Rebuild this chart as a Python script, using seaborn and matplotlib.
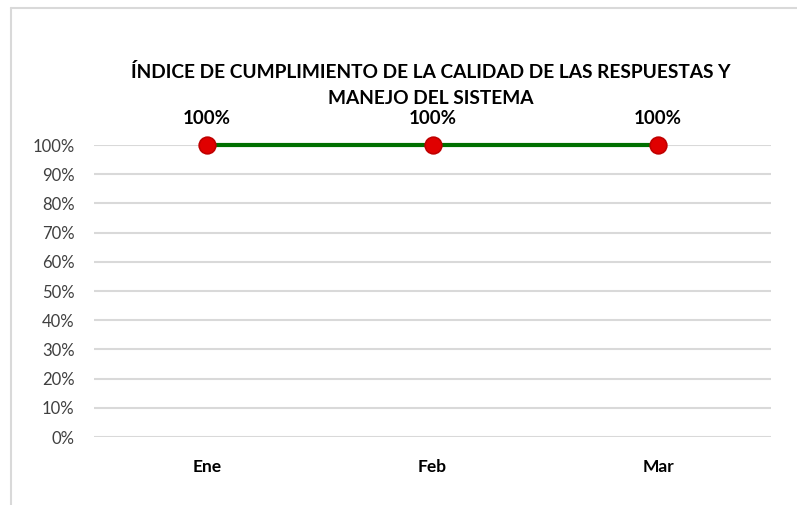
import pandas as pd
import matplotlib
matplotlib.use('Agg')
import matplotlib.pyplot as plt
import seaborn as sns
from matplotlib.ticker import PercentFormatter

meses = ['Ene', 'Feb', 'Mar']
cumplimiento = [1.0, 1.0, 1.0]
titulo = 'ÍNDICE DE CUMPLIMIENTO DE LA CALIDAD DE LAS RESPUESTAS Y\nMANEJO DEL SISTEMA'

df = pd.DataFrame({'mes': meses, 'valor': cumplimiento})
df['pos'] = range(len(meses))

sns.set_style('white')
plt.rcParams['font.family'] = ['Lato', 'DejaVu Sans']

fig = plt.figure(figsize=(7.97, 5.05), dpi=100)
ax = fig.add_axes([94/797, 1 - 437/505, (771 - 94)/797, (437 - 145)/505])

sns.lineplot(data=df, x='pos', y='valor', ax=ax, color='#007000', linewidth=3,
             marker='o', markersize=12, markerfacecolor='#e00000',
             markeredgecolor='#c00000', markeredgewidth=1.2, zorder=3)
for ln in ax.lines:
    ln.set_clip_on(False)

ax.set_xlim(-0.5, len(meses) - 0.5)
ax.set_ylim(0, 1)
ax.set_xticks(df['pos'])
ax.set_xticklabels(meses, fontsize=12.5, fontweight='bold', color='black')
ax.set_yticks([i / 10 for i in range(11)])
ax.yaxis.set_major_formatter(PercentFormatter(1.0, decimals=0))
ax.tick_params(axis='y', labelsize=12, labelcolor='#404040', length=0, pad=14)
ax.tick_params(axis='x', length=0, pad=16)
ax.grid(axis='y', color='#d9d9d9', linewidth=1.5)
ax.set_axisbelow(True)
ax.set_xlabel('')
ax.set_ylabel('')
for s in ax.spines.values():
    s.set_visible(False)

for x, y in zip(df['pos'], df['valor']):
    ax.annotate(f'{y:.0%}', xy=(x, y), xytext=(0, 13), textcoords='offset points',
                ha='center', va='bottom', fontsize=13.5, fontweight='bold', color='black',
                annotation_clip=False)

fig.text(431/797, 1 - 63/505, titulo, ha='center', va='top', fontsize=13.8,
         fontweight='bold', color='black', linespacing=1.65)

# borde del area del grafico (solo izquierda y arriba visibles)
fig.add_artist(plt.Line2D([11/797, 11/797], [0, 1 - 8/505], transform=fig.transFigure,
                          color='#d9d9d9', linewidth=1.5))
fig.add_artist(plt.Line2D([11/797, 1], [1 - 8/505, 1 - 8/505], transform=fig.transFigure,
                          color='#d9d9d9', linewidth=1.5))

fig.savefig('out.png', dpi=100, facecolor='white')
